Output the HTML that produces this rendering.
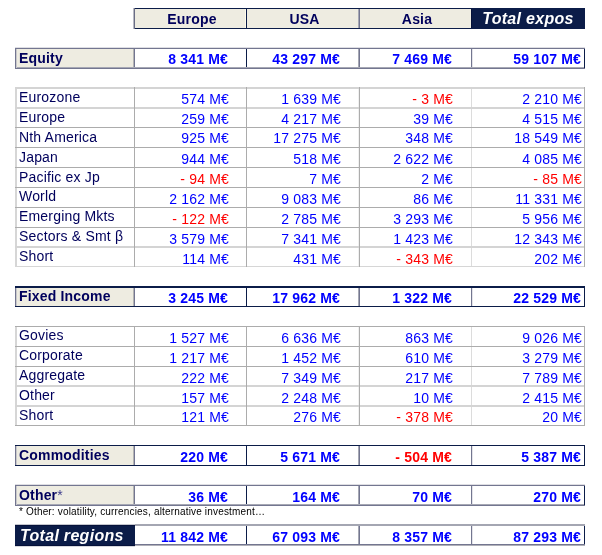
<!DOCTYPE html>
<html><head><meta charset="utf-8"><style>
html,body{margin:0;padding:0;background:#fff;}
body{width:602px;height:555px;position:relative;overflow:hidden;font-family:"Liberation Sans",Arial,sans-serif;}
.r{position:absolute;}
.t{position:absolute;white-space:nowrap;font-size:14px;line-height:16px;letter-spacing:0.18px;}
.l{color:#00005C;}
.lb{color:#00005C;font-weight:bold;}
.st{font-weight:normal;color:#3C3C8C;}
.vb{font-weight:bold;}
.hb{font-weight:bold;color:#00005C;}
.hbi{font-weight:bold;font-style:italic;color:#fff;font-size:16px;letter-spacing:0.3px;}
.tbi{font-weight:bold;font-style:italic;color:#fff;font-size:16px;letter-spacing:0.3px;}
.fn{font-size:10px;color:#000;line-height:12px;letter-spacing:0.17px;}
</style></head><body>
<div class="r" style="left:134px;top:9px;width:337px;height:19px;background:#EEECE1"></div>
<div class="r" style="left:134px;top:8px;width:451px;height:1px;background:#0B1C48"></div>
<div class="r" style="left:134px;top:28px;width:451px;height:1px;background:#0B1C48"></div>
<div class="r" style="left:133px;top:8px;width:1px;height:21px;background:#B8BAC4"></div>
<div class="r" style="left:134px;top:8px;width:1px;height:21px;background:#6A6D85"></div>
<div class="r" style="left:245px;top:9px;width:1px;height:19px;background:#FFFBEB"></div>
<div class="r" style="left:246px;top:9px;width:1px;height:19px;background:#0B1C48"></div>
<div class="r" style="left:358px;top:9px;width:1px;height:19px;background:#A6A8B4"></div>
<div class="r" style="left:359px;top:9px;width:1px;height:19px;background:#737690"></div>
<div class="r" style="left:471px;top:8px;width:114px;height:21px;background:#0B1C48"></div>
<div class="r" style="left:471px;top:9px;width:1px;height:19px;background:#05113A"></div>
<div class="t hb" style="top:11px;left:136px;width:112px;text-align:center;">Europe</div>
<div class="t hb" style="top:11px;left:248px;width:113px;text-align:center;">USA</div>
<div class="t hb" style="top:11px;left:361px;width:112px;text-align:center;">Asia</div>
<div class="t hbi" style="top:11px;left:471px;width:114px;text-align:center;">Total expos</div>
<div class="r" style="left:16px;top:49px;width:568px;height:19px;background:#FFFFFF"></div>
<div class="r" style="left:16px;top:49px;width:118px;height:19px;background:#EEECE1"></div>
<div class="r" style="left:15px;top:48px;width:1px;height:21px;background:#737690"></div>
<div class="r" style="left:16px;top:48px;width:1px;height:21px;background:#C9C9CC"></div>
<div class="r" style="left:133px;top:48px;width:1px;height:21px;background:#B4B4B4"></div>
<div class="r" style="left:134px;top:48px;width:1px;height:21px;background:#737690"></div>
<div class="r" style="left:246px;top:48px;width:1px;height:21px;background:#0B1C48"></div>
<div class="r" style="left:358px;top:48px;width:1px;height:21px;background:#A6A8B4"></div>
<div class="r" style="left:359px;top:48px;width:1px;height:21px;background:#737690"></div>
<div class="r" style="left:471px;top:48px;width:1px;height:21px;background:#737690"></div>
<div class="r" style="left:472px;top:48px;width:1px;height:21px;background:#E4E4EA"></div>
<div class="r" style="left:584px;top:48px;width:1px;height:21px;background:#0B1C48"></div>
<div class="r" style="left:15px;top:47px;width:570px;height:1px;background:#DEDEE3"></div>
<div class="r" style="left:15px;top:48px;width:570px;height:1px;background:#737690"></div>
<div class="r" style="left:17px;top:67px;width:567px;height:1px;background:#A6A8B4"></div>
<div class="r" style="left:15px;top:68px;width:570px;height:1px;background:#737690"></div>
<div class="t lb" style="top:50px;left:19px;">Equity</div>
<div class="t vb" style="top:51px;right:374px;text-align:right;color:#0000FF;">8 341 M€</div>
<div class="t vb" style="top:51px;right:262px;text-align:right;color:#0000FF;">43 297 M€</div>
<div class="t vb" style="top:51px;right:150px;text-align:right;color:#0000FF;">7 469 M€</div>
<div class="t vb" style="top:51px;right:21px;text-align:right;color:#0000FF;">59 107 M€</div>
<div class="r" style="left:16px;top:288px;width:568px;height:18px;background:#FFFFFF"></div>
<div class="r" style="left:16px;top:288px;width:118px;height:18px;background:#EEECE1"></div>
<div class="r" style="left:15px;top:287px;width:1px;height:20px;background:#737690"></div>
<div class="r" style="left:16px;top:287px;width:1px;height:20px;background:#C9C9CC"></div>
<div class="r" style="left:133px;top:287px;width:1px;height:20px;background:#B4B4B4"></div>
<div class="r" style="left:134px;top:287px;width:1px;height:20px;background:#737690"></div>
<div class="r" style="left:246px;top:287px;width:1px;height:20px;background:#0B1C48"></div>
<div class="r" style="left:358px;top:287px;width:1px;height:20px;background:#A6A8B4"></div>
<div class="r" style="left:359px;top:287px;width:1px;height:20px;background:#737690"></div>
<div class="r" style="left:471px;top:287px;width:1px;height:20px;background:#737690"></div>
<div class="r" style="left:472px;top:287px;width:1px;height:20px;background:#E4E4EA"></div>
<div class="r" style="left:584px;top:287px;width:1px;height:20px;background:#0B1C48"></div>
<div class="r" style="left:15px;top:287px;width:570px;height:1px;background:#0B1C48"></div>
<div class="r" style="left:15px;top:286px;width:570px;height:1px;background:#0B1C48"></div>
<div class="r" style="left:15px;top:306px;width:570px;height:1px;background:#0B1C48"></div>
<div class="t lb" style="top:288px;left:19px;">Fixed Income</div>
<div class="t vb" style="top:290px;right:374px;text-align:right;color:#0000FF;">3 245 M€</div>
<div class="t vb" style="top:290px;right:262px;text-align:right;color:#0000FF;">17 962 M€</div>
<div class="t vb" style="top:290px;right:150px;text-align:right;color:#0000FF;">1 322 M€</div>
<div class="t vb" style="top:290px;right:21px;text-align:right;color:#0000FF;">22 529 M€</div>
<div class="r" style="left:16px;top:446px;width:568px;height:19px;background:#FFFFFF"></div>
<div class="r" style="left:16px;top:446px;width:118px;height:19px;background:#EEECE1"></div>
<div class="r" style="left:15px;top:445px;width:1px;height:21px;background:#737690"></div>
<div class="r" style="left:16px;top:445px;width:1px;height:21px;background:#C9C9CC"></div>
<div class="r" style="left:133px;top:445px;width:1px;height:21px;background:#B4B4B4"></div>
<div class="r" style="left:134px;top:445px;width:1px;height:21px;background:#737690"></div>
<div class="r" style="left:246px;top:445px;width:1px;height:21px;background:#0B1C48"></div>
<div class="r" style="left:358px;top:445px;width:1px;height:21px;background:#A6A8B4"></div>
<div class="r" style="left:359px;top:445px;width:1px;height:21px;background:#737690"></div>
<div class="r" style="left:471px;top:445px;width:1px;height:21px;background:#737690"></div>
<div class="r" style="left:472px;top:445px;width:1px;height:21px;background:#E4E4EA"></div>
<div class="r" style="left:584px;top:445px;width:1px;height:21px;background:#0B1C48"></div>
<div class="r" style="left:15px;top:445px;width:570px;height:1px;background:#0B1C48"></div>
<div class="r" style="left:15px;top:465px;width:570px;height:1px;background:#0B1C48"></div>
<div class="t lb" style="top:447px;left:19px;">Commodities</div>
<div class="t vb" style="top:449px;right:374px;text-align:right;color:#0000FF;">220 M€</div>
<div class="t vb" style="top:449px;right:262px;text-align:right;color:#0000FF;">5 671 M€</div>
<div class="t vb" style="top:449px;right:150px;text-align:right;color:#FF0000;">- 504 M€</div>
<div class="t vb" style="top:449px;right:21px;text-align:right;color:#0000FF;">5 387 M€</div>
<div class="r" style="left:16px;top:486px;width:568px;height:19px;background:#FFFFFF"></div>
<div class="r" style="left:16px;top:486px;width:118px;height:19px;background:#EEECE1"></div>
<div class="r" style="left:15px;top:485px;width:1px;height:21px;background:#737690"></div>
<div class="r" style="left:16px;top:485px;width:1px;height:21px;background:#C9C9CC"></div>
<div class="r" style="left:133px;top:485px;width:1px;height:21px;background:#B4B4B4"></div>
<div class="r" style="left:134px;top:485px;width:1px;height:21px;background:#737690"></div>
<div class="r" style="left:246px;top:485px;width:1px;height:21px;background:#0B1C48"></div>
<div class="r" style="left:358px;top:485px;width:1px;height:21px;background:#A6A8B4"></div>
<div class="r" style="left:359px;top:485px;width:1px;height:21px;background:#737690"></div>
<div class="r" style="left:471px;top:485px;width:1px;height:21px;background:#737690"></div>
<div class="r" style="left:472px;top:485px;width:1px;height:21px;background:#E4E4EA"></div>
<div class="r" style="left:584px;top:485px;width:1px;height:21px;background:#0B1C48"></div>
<div class="r" style="left:15px;top:484px;width:570px;height:1px;background:#DEDEE3"></div>
<div class="r" style="left:15px;top:485px;width:570px;height:1px;background:#737690"></div>
<div class="r" style="left:17px;top:504px;width:567px;height:1px;background:#A6A8B4"></div>
<div class="r" style="left:15px;top:505px;width:570px;height:1px;background:#737690"></div>
<div class="t lb" style="top:487px;left:19px;">Other<span class="st">*</span></div>
<div class="t vb" style="top:489px;right:374px;text-align:right;color:#0000FF;">36 M€</div>
<div class="t vb" style="top:489px;right:262px;text-align:right;color:#0000FF;">164 M€</div>
<div class="t vb" style="top:489px;right:150px;text-align:right;color:#0000FF;">70 M€</div>
<div class="t vb" style="top:489px;right:21px;text-align:right;color:#0000FF;">270 M€</div>
<div class="r" style="left:15px;top:87px;width:1px;height:180px;background:#D6D6D6"></div>
<div class="r" style="left:16px;top:87px;width:1px;height:180px;background:#D6D6D6"></div>
<div class="r" style="left:134px;top:87px;width:1px;height:180px;background:#ACACAC"></div>
<div class="r" style="left:246px;top:87px;width:1px;height:180px;background:#ACACAC"></div>
<div class="r" style="left:358px;top:87px;width:1px;height:180px;background:#F0F0F0"></div>
<div class="r" style="left:359px;top:87px;width:1px;height:180px;background:#ACACAC"></div>
<div class="r" style="left:471px;top:87px;width:1px;height:180px;background:#DCDCDC"></div>
<div class="r" style="left:584px;top:87px;width:1px;height:180px;background:#ACACAC"></div>
<div class="r" style="left:15px;top:87px;width:570px;height:1px;background:#D4D4D4"></div>
<div class="r" style="left:15px;top:88px;width:570px;height:1px;background:#D4D4D4"></div>
<div class="r" style="left:15px;top:107px;width:570px;height:1px;background:#D4D4D4"></div>
<div class="r" style="left:15px;top:108px;width:570px;height:1px;background:#D4D4D4"></div>
<div class="r" style="left:15px;top:127px;width:570px;height:1px;background:#ACACAC"></div>
<div class="r" style="left:15px;top:147px;width:570px;height:1px;background:#ACACAC"></div>
<div class="r" style="left:15px;top:167px;width:570px;height:1px;background:#ACACAC"></div>
<div class="r" style="left:15px;top:187px;width:570px;height:1px;background:#ACACAC"></div>
<div class="r" style="left:15px;top:207px;width:570px;height:1px;background:#ACACAC"></div>
<div class="r" style="left:15px;top:227px;width:570px;height:1px;background:#ACACAC"></div>
<div class="r" style="left:15px;top:246px;width:570px;height:1px;background:#D4D4D4"></div>
<div class="r" style="left:15px;top:247px;width:570px;height:1px;background:#D4D4D4"></div>
<div class="r" style="left:15px;top:266px;width:570px;height:1px;background:#D6D6D6"></div>
<div class="r" style="left:134px;top:87px;width:1px;height:180px;background:#ACACAC"></div>
<div class="r" style="left:246px;top:87px;width:1px;height:180px;background:#ACACAC"></div>
<div class="r" style="left:359px;top:87px;width:1px;height:180px;background:#ACACAC"></div>
<div class="r" style="left:584px;top:87px;width:1px;height:180px;background:#ACACAC"></div>
<div class="t l" style="top:89px;left:19px;">Eurozone</div>
<div class="t v" style="top:91px;right:373px;text-align:right;color:#0000FF;">574 M€</div>
<div class="t v" style="top:91px;right:261px;text-align:right;color:#0000FF;">1 639 M€</div>
<div class="t v" style="top:91px;right:149px;text-align:right;color:#FF0000;">- 3 M€</div>
<div class="t v" style="top:91px;right:20px;text-align:right;color:#0000FF;">2 210 M€</div>
<div class="t l" style="top:109px;left:19px;">Europe</div>
<div class="t v" style="top:111px;right:373px;text-align:right;color:#0000FF;">259 M€</div>
<div class="t v" style="top:111px;right:261px;text-align:right;color:#0000FF;">4 217 M€</div>
<div class="t v" style="top:111px;right:149px;text-align:right;color:#0000FF;">39 M€</div>
<div class="t v" style="top:111px;right:20px;text-align:right;color:#0000FF;">4 515 M€</div>
<div class="t l" style="top:129px;left:19px;">Nth America</div>
<div class="t v" style="top:130px;right:373px;text-align:right;color:#0000FF;">925 M€</div>
<div class="t v" style="top:130px;right:261px;text-align:right;color:#0000FF;">17 275 M€</div>
<div class="t v" style="top:130px;right:149px;text-align:right;color:#0000FF;">348 M€</div>
<div class="t v" style="top:130px;right:20px;text-align:right;color:#0000FF;">18 549 M€</div>
<div class="t l" style="top:149px;left:19px;">Japan</div>
<div class="t v" style="top:151px;right:373px;text-align:right;color:#0000FF;">944 M€</div>
<div class="t v" style="top:151px;right:261px;text-align:right;color:#0000FF;">518 M€</div>
<div class="t v" style="top:151px;right:149px;text-align:right;color:#0000FF;">2 622 M€</div>
<div class="t v" style="top:151px;right:20px;text-align:right;color:#0000FF;">4 085 M€</div>
<div class="t l" style="top:169px;left:19px;">Pacific ex Jp</div>
<div class="t v" style="top:171px;right:373px;text-align:right;color:#FF0000;">- 94 M€</div>
<div class="t v" style="top:171px;right:261px;text-align:right;color:#0000FF;">7 M€</div>
<div class="t v" style="top:171px;right:149px;text-align:right;color:#0000FF;">2 M€</div>
<div class="t v" style="top:171px;right:20px;text-align:right;color:#FF0000;">- 85 M€</div>
<div class="t l" style="top:188px;left:19px;">World</div>
<div class="t v" style="top:191px;right:373px;text-align:right;color:#0000FF;">2 162 M€</div>
<div class="t v" style="top:191px;right:261px;text-align:right;color:#0000FF;">9 083 M€</div>
<div class="t v" style="top:191px;right:149px;text-align:right;color:#0000FF;">86 M€</div>
<div class="t v" style="top:191px;right:20px;text-align:right;color:#0000FF;">11 331 M€</div>
<div class="t l" style="top:208px;left:19px;">Emerging Mkts</div>
<div class="t v" style="top:211px;right:373px;text-align:right;color:#FF0000;">- 122 M€</div>
<div class="t v" style="top:211px;right:261px;text-align:right;color:#0000FF;">2 785 M€</div>
<div class="t v" style="top:211px;right:149px;text-align:right;color:#0000FF;">3 293 M€</div>
<div class="t v" style="top:211px;right:20px;text-align:right;color:#0000FF;">5 956 M€</div>
<div class="t l" style="top:228px;left:19px;">Sectors &amp; Smt β</div>
<div class="t v" style="top:231px;right:373px;text-align:right;color:#0000FF;">3 579 M€</div>
<div class="t v" style="top:231px;right:261px;text-align:right;color:#0000FF;">7 341 M€</div>
<div class="t v" style="top:231px;right:149px;text-align:right;color:#0000FF;">1 423 M€</div>
<div class="t v" style="top:231px;right:20px;text-align:right;color:#0000FF;">12 343 M€</div>
<div class="t l" style="top:248px;left:19px;">Short</div>
<div class="t v" style="top:251px;right:373px;text-align:right;color:#0000FF;">114 M€</div>
<div class="t v" style="top:251px;right:261px;text-align:right;color:#0000FF;">431 M€</div>
<div class="t v" style="top:251px;right:149px;text-align:right;color:#FF0000;">- 343 M€</div>
<div class="t v" style="top:251px;right:20px;text-align:right;color:#0000FF;">202 M€</div>
<div class="r" style="left:15px;top:326px;width:1px;height:100px;background:#D6D6D6"></div>
<div class="r" style="left:16px;top:326px;width:1px;height:100px;background:#D6D6D6"></div>
<div class="r" style="left:134px;top:326px;width:1px;height:100px;background:#ACACAC"></div>
<div class="r" style="left:246px;top:326px;width:1px;height:100px;background:#ACACAC"></div>
<div class="r" style="left:358px;top:326px;width:1px;height:100px;background:#F0F0F0"></div>
<div class="r" style="left:359px;top:326px;width:1px;height:100px;background:#ACACAC"></div>
<div class="r" style="left:471px;top:326px;width:1px;height:100px;background:#DCDCDC"></div>
<div class="r" style="left:584px;top:326px;width:1px;height:100px;background:#ACACAC"></div>
<div class="r" style="left:15px;top:326px;width:570px;height:1px;background:#ACACAC"></div>
<div class="r" style="left:15px;top:346px;width:570px;height:1px;background:#ACACAC"></div>
<div class="r" style="left:15px;top:366px;width:570px;height:1px;background:#ACACAC"></div>
<div class="r" style="left:15px;top:385px;width:570px;height:1px;background:#D4D4D4"></div>
<div class="r" style="left:15px;top:386px;width:570px;height:1px;background:#D4D4D4"></div>
<div class="r" style="left:15px;top:405px;width:570px;height:1px;background:#D4D4D4"></div>
<div class="r" style="left:15px;top:406px;width:570px;height:1px;background:#D4D4D4"></div>
<div class="r" style="left:15px;top:425px;width:570px;height:1px;background:#ACACAC"></div>
<div class="r" style="left:134px;top:326px;width:1px;height:100px;background:#ACACAC"></div>
<div class="r" style="left:246px;top:326px;width:1px;height:100px;background:#ACACAC"></div>
<div class="r" style="left:359px;top:326px;width:1px;height:100px;background:#ACACAC"></div>
<div class="r" style="left:584px;top:326px;width:1px;height:100px;background:#ACACAC"></div>
<div class="t l" style="top:327px;left:19px;">Govies</div>
<div class="t v" style="top:330px;right:373px;text-align:right;color:#0000FF;">1 527 M€</div>
<div class="t v" style="top:330px;right:261px;text-align:right;color:#0000FF;">6 636 M€</div>
<div class="t v" style="top:330px;right:149px;text-align:right;color:#0000FF;">863 M€</div>
<div class="t v" style="top:330px;right:20px;text-align:right;color:#0000FF;">9 026 M€</div>
<div class="t l" style="top:347px;left:19px;">Corporate</div>
<div class="t v" style="top:350px;right:373px;text-align:right;color:#0000FF;">1 217 M€</div>
<div class="t v" style="top:350px;right:261px;text-align:right;color:#0000FF;">1 452 M€</div>
<div class="t v" style="top:350px;right:149px;text-align:right;color:#0000FF;">610 M€</div>
<div class="t v" style="top:350px;right:20px;text-align:right;color:#0000FF;">3 279 M€</div>
<div class="t l" style="top:367px;left:19px;">Aggregate</div>
<div class="t v" style="top:370px;right:373px;text-align:right;color:#0000FF;">222 M€</div>
<div class="t v" style="top:370px;right:261px;text-align:right;color:#0000FF;">7 349 M€</div>
<div class="t v" style="top:370px;right:149px;text-align:right;color:#0000FF;">217 M€</div>
<div class="t v" style="top:370px;right:20px;text-align:right;color:#0000FF;">7 789 M€</div>
<div class="t l" style="top:387px;left:19px;">Other</div>
<div class="t v" style="top:390px;right:373px;text-align:right;color:#0000FF;">157 M€</div>
<div class="t v" style="top:390px;right:261px;text-align:right;color:#0000FF;">2 248 M€</div>
<div class="t v" style="top:390px;right:149px;text-align:right;color:#0000FF;">10 M€</div>
<div class="t v" style="top:390px;right:20px;text-align:right;color:#0000FF;">2 415 M€</div>
<div class="t l" style="top:407px;left:19px;">Short</div>
<div class="t v" style="top:409px;right:373px;text-align:right;color:#0000FF;">121 M€</div>
<div class="t v" style="top:409px;right:261px;text-align:right;color:#0000FF;">276 M€</div>
<div class="t v" style="top:409px;right:149px;text-align:right;color:#FF0000;">- 378 M€</div>
<div class="t v" style="top:409px;right:20px;text-align:right;color:#0000FF;">20 M€</div>
<div class="t fn" style="top:506px;left:19px;">* Other: volatility, currencies, alternative investment…</div>
<div class="r" style="left:246px;top:525px;width:1px;height:20px;background:#0B1C48"></div>
<div class="r" style="left:358px;top:525px;width:1px;height:20px;background:#A6A8B4"></div>
<div class="r" style="left:359px;top:525px;width:1px;height:20px;background:#737690"></div>
<div class="r" style="left:471px;top:525px;width:1px;height:20px;background:#737690"></div>
<div class="r" style="left:472px;top:525px;width:1px;height:20px;background:#E4E4EA"></div>
<div class="r" style="left:584px;top:525px;width:1px;height:20px;background:#0B1C48"></div>
<div class="r" style="left:134px;top:524px;width:451px;height:1px;background:#A4A6B2"></div>
<div class="r" style="left:134px;top:525px;width:451px;height:1px;background:#A4A6B2"></div>
<div class="r" style="left:134px;top:544px;width:451px;height:1px;background:#737690"></div>
<div class="r" style="left:134px;top:545px;width:451px;height:1px;background:#B0B0B8"></div>
<div class="r" style="left:15px;top:524px;width:120px;height:1px;background:#C4C6CE"></div>
<div class="r" style="left:15px;top:525px;width:120px;height:21px;background:#0B1C48"></div>
<div class="r" style="left:15px;top:525px;width:120px;height:1px;background:#05113A"></div>
<div class="r" style="left:15px;top:545px;width:120px;height:1px;background:#05113A"></div>
<div class="r" style="left:15px;top:546px;width:120px;height:1px;background:#D8D9DE"></div>
<div class="r" style="left:246px;top:526px;width:1px;height:18px;background:#0B1C48"></div>
<div class="t tbi" style="top:528px;left:20px;">Total regions</div>
<div class="t vb" style="top:529px;right:374px;text-align:right;color:#0000FF;">11 842 M€</div>
<div class="t vb" style="top:529px;right:262px;text-align:right;color:#0000FF;">67 093 M€</div>
<div class="t vb" style="top:529px;right:150px;text-align:right;color:#0000FF;">8 357 M€</div>
<div class="t vb" style="top:529px;right:21px;text-align:right;color:#0000FF;">87 293 M€</div>
</body></html>
